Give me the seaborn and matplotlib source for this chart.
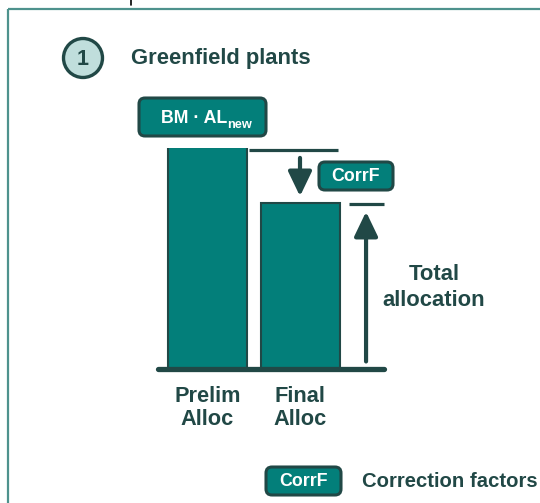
import matplotlib
matplotlib.use("Agg")
import matplotlib.pyplot as plt
from matplotlib.patches import Circle, FancyBboxPatch
import seaborn as sns

# data
categories = ["Prelim\nAlloc", "Final\nAlloc"]
values = [100, 75]  # preliminary vs final allocation (relative)
corr_label = "CorrF"
total_label = ["Total", "allocation"]
legend_label = "Correction factors"
title = "Greenfield plants"

teal = "#037f7a"
dark = "#214846"
light = "#c0dedc"
border = "#4e928d"

sns.set_style("white")
plt.rcParams["font.family"] = ["Liberation Sans", "DejaVu Sans"]

fig = plt.figure(figsize=(5.4, 5.03), dpi=100)

# overlay axes in pixel coordinates for the decorations
ov = fig.add_axes([0, 0, 1, 1])
ov.set_xlim(0, 540)
ov.set_ylim(503, 0)
ov.set_aspect("equal")
ov.axis("off")

# frame around the panel
ov.plot([7.5, 7.5], [8.5, 503], color=border, lw=1.6, solid_capstyle="butt")
ov.plot([7.5, 540], [8.5, 8.5], color=border, lw=1.6, solid_capstyle="butt")
ov.plot([131, 131], [0, 4.5], color="black", lw=1.2)

# numbered circle + title
ov.add_patch(Circle((83, 58), 19.5, facecolor=light, edgecolor=dark, lw=2.4))
ov.text(83, 59, "1", ha="center", va="center", fontsize=15.5, fontweight="bold", color=dark)
ov.text(131, 58, title, ha="left", va="center", fontsize=15.8, fontweight="bold", color=dark)


def box(x0, y0, x1, y1, r=6):
    ov.add_patch(FancyBboxPatch((x0 + r, y0 + r), x1 - x0 - 2 * r, y1 - y0 - 2 * r,
                                boxstyle=f"round,pad={r}", facecolor=teal,
                                edgecolor=dark, lw=2.2))


# BM . AL_new box
box(139, 98, 266, 136)
ov.text(227, 118, "BM · AL", ha="right", va="center", fontsize=12.8, fontweight="bold", color="white")
ov.text(227.5, 124.5, "new", ha="left", va="center", fontsize=9.2, fontweight="bold", color="white")

# CorrF box next to the down arrow
box(319, 162, 393, 190)
ov.text(356, 176.5, corr_label, ha="center", va="center", fontsize=12.8, fontweight="bold", color="white")

# total allocation label
ov.text(434, 275, total_label[0], ha="center", va="center", fontsize=15.8, fontweight="bold", color=dark)
ov.text(434, 300, total_label[1], ha="center", va="center", fontsize=15.8, fontweight="bold", color=dark)

# legend
box(266, 467, 341, 495)
ov.text(303.5, 481.5, corr_label, ha="center", va="center", fontsize=12.8, fontweight="bold", color="white")
ov.text(362, 481.5, legend_label, ha="left", va="center", fontsize=14.6, fontweight="bold", color=dark)

# bar axes
ax = fig.add_axes([158 / 540, 1 - 369 / 503, (384 - 158) / 540, (369 - 147.5) / 503])
ax.set_facecolor("none")
sns.barplot(x=categories, y=values, ax=ax, color=teal, saturation=1,
            width=0.854, edgecolor=dark, linewidth=1.5)
ax.set_xlim(-0.535, 1.908)
ax.set_ylim(0, 100)
sns.despine(ax=ax, left=True, bottom=True)
ax.set_yticks([])
ax.set_ylabel("")
ax.tick_params(axis="x", length=0, pad=12)
for lab in ax.get_xticklabels():
    lab.set_fontsize(15.7)
    lab.set_fontweight("bold")
    lab.set_color(dark)
    lab.set_linespacing(1.15)

prelim, final = values
ax.axhline(0, color=dark, lw=3.8, clip_on=False)

arrow_style = "-|>,head_length=0.75,head_width=0.36"

# reference line at the preliminary level and the drop
ax.plot([0.449, 1.411], [prelim - 1.2, prelim - 1.2], color=dark, lw=2.3,
        solid_capstyle="butt", clip_on=False)
ax.annotate("", xy=(1.0, final + 3), xytext=(1.0, prelim - 4.7),
            arrowprops=dict(arrowstyle=arrow_style, mutation_scale=20, color=dark,
                            lw=3, shrinkA=0, shrinkB=0), annotation_clip=False)

# total allocation arrow
ax.plot([1.530, 1.908], [final - 0.5, final - 0.5], color=dark, lw=2.3,
        solid_capstyle="butt", clip_on=False)
ax.annotate("", xy=(1.714, final - 4), xytext=(1.714, 3.4),
            arrowprops=dict(arrowstyle=arrow_style, mutation_scale=20, color=dark,
                            lw=3, shrinkA=0, shrinkB=0), annotation_clip=False)

fig.savefig("out.png", dpi=100)
